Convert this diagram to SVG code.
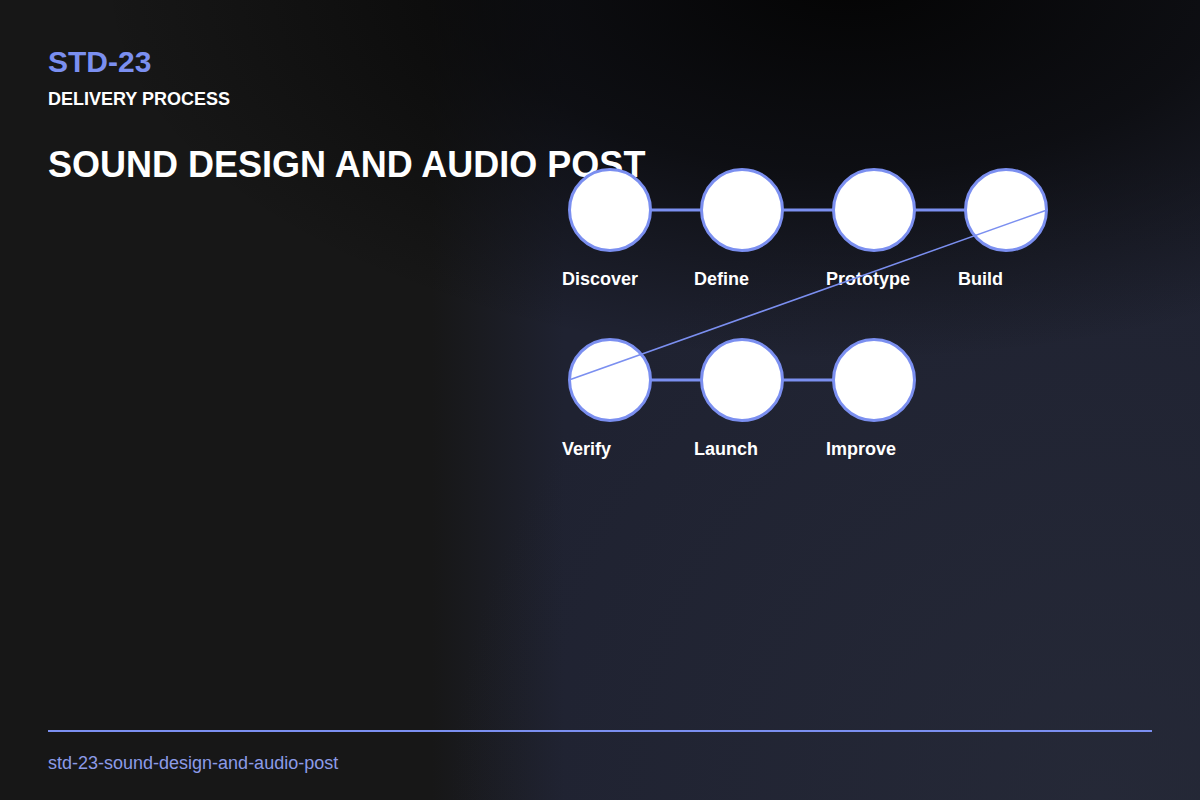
<svg xmlns="http://www.w3.org/2000/svg" width="1200" height="800" viewBox="0 0 1200 800">
  <defs>
    <linearGradient id="navyH" x1="0" y1="0" x2="1200" y2="0" gradientUnits="userSpaceOnUse">
      <stop offset="0.36" stop-color="#1f2231" stop-opacity="0"/>
      <stop offset="0.47" stop-color="#1f2231" stop-opacity="1"/>
    </linearGradient>
    <radialGradient id="navyGlow" cx="1100" cy="800" r="650" gradientUnits="userSpaceOnUse">
      <stop offset="0" stop-color="#292d3b" stop-opacity="0.6"/>
      <stop offset="1" stop-color="#292d3b" stop-opacity="0"/>
    </radialGradient>
    <radialGradient id="topdark" cx="0" cy="0" r="1" gradientUnits="userSpaceOnUse" gradientTransform="translate(850 -20) scale(750 380)">
      <stop offset="0" stop-color="#040404" stop-opacity="1"/>
      <stop offset="0.5" stop-color="#060606" stop-opacity="0.7"/>
      <stop offset="1" stop-color="#080808" stop-opacity="0"/>
    </radialGradient>
  </defs>
  <style>
    .node circle { fill: #ffffff; stroke: #7b8ff0; stroke-width: 3; }
    .label { font-family: "Liberation Sans", Arial, sans-serif; font-weight: bold; font-size: 18px; fill: #ffffff; }
    .conn line { stroke: #7b8ff0; }
    .h { stroke-width: 3; }
    .d { stroke-width: 1.5; }
  </style>
  <rect width="1200" height="800" fill="#171717"/>
  <rect width="1200" height="800" fill="url(#navyH)"/>
  <rect width="1200" height="800" fill="url(#navyGlow)"/>
  <rect width="1200" height="800" fill="url(#topdark)"/>

  <g id="header">
    <text x="48" y="72" font-family="Liberation Sans, Arial, sans-serif" font-weight="bold" font-size="30" fill="#7b8ff0">STD-23</text>
    <text x="48" y="105" font-family="Liberation Sans, Arial, sans-serif" font-weight="bold" font-size="18" fill="#ffffff">DELIVERY PROCESS</text>
    <text x="48" y="177" font-family="Liberation Sans, Arial, sans-serif" font-weight="bold" font-size="36" fill="#ffffff">SOUND DESIGN AND AUDIO POST</text>
  </g>

  <g id="node-discover" class="node"><circle cx="610" cy="210" r="40.5"/><text class="label" x="562" y="285">Discover</text></g>
  <g id="node-define" class="node"><circle cx="742" cy="210" r="40.5"/><text class="label" x="694" y="285">Define</text></g>
  <g id="node-prototype" class="node"><circle cx="874" cy="210" r="40.5"/><text class="label" x="826" y="285">Prototype</text></g>
  <g id="node-build" class="node"><circle cx="1006" cy="210" r="40.5"/><text class="label" x="958" y="285">Build</text></g>
  <g id="node-verify" class="node"><circle cx="610" cy="380" r="40.5"/><text class="label" x="562" y="455">Verify</text></g>
  <g id="node-launch" class="node"><circle cx="742" cy="380" r="40.5"/><text class="label" x="694" y="455">Launch</text></g>
  <g id="node-improve" class="node"><circle cx="874" cy="380" r="40.5"/><text class="label" x="826" y="455">Improve</text></g>

  <g id="connectors" class="conn">
    <line class="h" x1="650" y1="210" x2="702" y2="210"/>
    <line class="h" x1="782" y1="210" x2="834" y2="210"/>
    <line class="h" x1="914" y1="210" x2="966" y2="210"/>
    <line class="d" x1="1047" y1="210" x2="569" y2="380"/>
    <line class="h" x1="650" y1="380" x2="702" y2="380"/>
    <line class="h" x1="782" y1="380" x2="834" y2="380"/>
  </g>

  <g id="footer">
    <line x1="48" y1="731" x2="1152" y2="731" stroke="#7b8ff0" stroke-width="2"/>
    <text x="48" y="769" font-family="Liberation Sans, Arial, sans-serif" font-size="18" fill="#8c9be8">std-23-sound-design-and-audio-post</text>
  </g>
</svg>
